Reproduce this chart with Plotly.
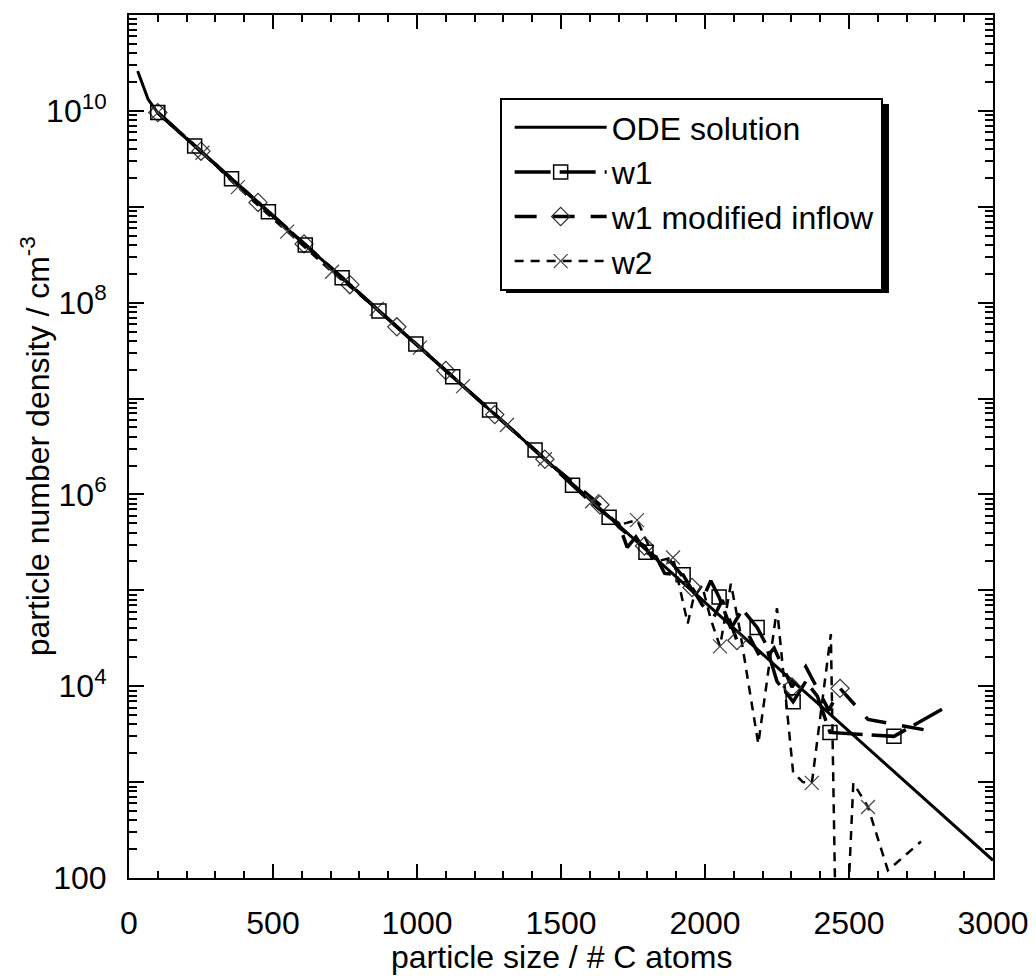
import plotly.graph_objects as go

# ---------------- data ----------------
ode_x = [30, 50, 66, 100, 200, 300, 400, 500, 600, 700, 800, 900, 1000, 1100, 1200,
         1300, 1400, 1500, 1600, 1700, 1800, 1900, 2000, 2100, 2200, 2300, 2400,
         2500, 2600, 2700, 2800, 2900, 3000]
ode_y = [2.6e10, 1.8e10, 1.33e10, 9.5e9, 5.1e9, 2.75e9, 1.48e9, 8.0e8, 4.3e8, 2.33e8,
         1.25e8, 6.8e7, 3.63e7, 1.95e7, 1.05e7, 5.7e6, 3.06e6, 1.65e6, 8.9e5, 4.8e5,
         2.57e5, 1.38e5, 7.5e4, 4.0e4, 2.16e4, 1.16e4, 6.3e3, 3.4e3, 1.82e3, 9.8e2,
         5.3e2, 2.85e2, 1.53e2]

w1_x = [100, 228, 356, 484, 612, 740, 868, 996, 1124, 1252, 1410, 1540, 1600, 1667,
        1700, 1730, 1760, 1795, 1830, 1860, 1924, 1960, 1990, 2020, 2049, 2090, 2130,
        2181, 2210, 2250, 2306, 2350, 2390, 2434, 2656, 2823]
w1_y = [9.6e9, 4.3e9, 1.96e9, 8.9e8, 4.0e8, 1.82e8, 8.2e7, 3.7e7, 1.69e7, 7.6e6, 2.9e6,
        1.25e6, 8.5e5, 5.8e5, 5.0e5, 2.8e5, 3.6e5, 2.5e5, 2.24e5, 1.5e5, 1.45e5, 9.5e4,
        7.9e4, 1.26e5, 8.5e4, 4.0e4, 6.3e4, 4.1e4, 2.8e4, 1.12e4, 6.9e3, 1.12e4, 7.9e3,
        3.3e3, 3.0e3, 5.75e3]
w1_mark_x = [100, 228, 356, 484, 612, 740, 868, 996, 1124, 1252, 1410, 1540, 1667, 1795,
             1924, 2049, 2181, 2306, 2434, 2656]
w1_mark_y = [9.6e9, 4.3e9, 1.96e9, 8.9e8, 4.0e8, 1.82e8, 8.2e7, 3.7e7, 1.69e7, 7.6e6,
             2.9e6, 1.25e6, 5.8e5, 2.5e5, 1.45e5, 8.5e4, 4.1e4, 6.9e3, 3.3e3, 3.0e3]

w1m_x = [100, 250, 448, 608, 767, 930, 1100, 1270, 1444, 1635, 1700, 1745, 1790, 1830,
         1880, 1955, 1990, 2030, 2060, 2111, 2150, 2200, 2240, 2302, 2350, 2430, 2469,
         2566, 2653, 2788]
w1m_y = [9.6e9, 3.8e9, 1.11e9, 4.1e8, 1.54e8, 5.6e7, 1.96e7, 6.8e6, 2.33e6, 7.8e5, 4.6e5,
         3.55e5, 2.9e5, 1.9e5, 2.0e5, 1.07e5, 7.1e4, 5.2e4, 7.9e4, 3.0e4, 3.5e4, 1.78e4,
         2.5e4, 9.8e3, 1.6e4, 5.6e3, 9.5e3, 4.5e3, 4.0e3, 3.4e3]
w1m_mark_x = [100, 250, 448, 608, 767, 930, 1100, 1270, 1444, 1635, 1790, 1955, 2111,
              2302, 2469]
w1m_mark_y = [9.6e9, 3.8e9, 1.11e9, 4.1e8, 1.54e8, 5.6e7, 1.96e7, 6.8e6, 2.33e6, 7.8e5,
              2.9e5, 1.07e5, 3.0e4, 9.8e3, 9.5e3]

w2_x = [100, 255, 378, 549, 705, 860, 1010, 1160, 1312, 1444, 1608, 1700, 1764, 1830,
        1889, 1940, 1960, 1990, 2020, 2052, 2090, 2120, 2185, 2250, 2306, 2340, 2371,
        2437, 2455, 2490, 2515, 2566, 2635, 2750]
w2_y = [9.6e9, 3.66e9, 1.6e9, 5.5e8, 2.1e8, 8.6e7, 3.4e7, 1.35e7, 5.3e6, 2.33e6, 8.5e5,
        4.8e5, 5.4e5, 2.0e5, 2.2e5, 4.5e4, 8.3e4, 1.12e5, 5.0e4, 2.6e4, 1.17e5, 4.0e4,
        2.5e3, 6.5e4, 1.26e3, 1.0e3, 9.8e2, 3.5e4, 20, 20, 9.8e2, 5.5e2, 1.2e2, 2.4e2]
w2_mark_x = [100, 255, 378, 549, 705, 860, 1010, 1160, 1312, 1444, 1608, 1764, 1889,
             2052, 2371, 2566]
w2_mark_y = [9.6e9, 3.66e9, 1.6e9, 5.5e8, 2.1e8, 8.6e7, 3.4e7, 1.35e7, 5.3e6, 2.33e6,
             8.5e5, 5.4e5, 2.2e5, 2.6e4, 9.8e2, 5.5e2]

x_ticks = [0, 500, 1000, 1500, 2000, 2500, 3000]
y_ticks = [1e2, 1e4, 1e6, 1e8, 1e10]
y_ticktext = ["100", "10<sup>4</sup>", "10<sup>6</sup>", "10<sup>8</sup>", "10<sup>10</sup>"]
y_ticks_unlabeled = [1e3, 1e5, 1e7, 1e9, 1e11]

x_title = "particle size / # C atoms"
y_title = "particle number density / cm<sup>-3</sup>"

# ---------------- styles ----------------
FONT = "Liberation Sans, Arial, sans-serif"
ode_line = dict(color="black", width=3)
w1_line = dict(color="black", width=3.5, dash="36px,9px")
w1m_line = dict(color="black", width=3.5, dash="22px,16px")
w2_line = dict(color="black", width=2.5, dash="9px,7px")
sq_marker = dict(symbol="square-open", size=14, color="black", line=dict(width=1.5, color="black"))
dm_marker = dict(symbol="diamond-open", size=14, color="#333333", line=dict(width=1.2, color="#333333"))
x_marker = dict(symbol="x-thin-open", size=14, color="#444444", line=dict(width=1.2, color="#444444"))

fig = go.Figure()

fig.add_trace(go.Scatter(x=w2_x, y=w2_y, mode="lines", line=w2_line, showlegend=False, hoverinfo="skip"))
fig.add_trace(go.Scatter(x=w1m_x, y=w1m_y, mode="lines", line=w1m_line, showlegend=False, hoverinfo="skip"))
fig.add_trace(go.Scatter(x=w1_x, y=w1_y, mode="lines", line=w1_line, showlegend=False, hoverinfo="skip"))
fig.add_trace(go.Scatter(x=ode_x, y=ode_y, mode="lines", line=ode_line, name="ODE solution", legendrank=1))
fig.add_trace(go.Scatter(x=w2_mark_x, y=w2_mark_y, mode="markers", marker=x_marker, showlegend=False))
fig.add_trace(go.Scatter(x=w1m_mark_x, y=w1m_mark_y, mode="markers", marker=dm_marker, showlegend=False))
fig.add_trace(go.Scatter(x=w1_mark_x, y=w1_mark_y, mode="markers", marker=sq_marker, showlegend=False))

# legend entries
fig.add_trace(go.Scatter(x=[None], y=[None], mode="lines+markers", line=w1_line, marker=sq_marker,
                         name="w1", legendrank=2))
fig.add_trace(go.Scatter(x=[None], y=[None], mode="lines+markers", line=w1m_line, marker=dm_marker,
                         name="w1 modified inflow", legendrank=3))
fig.add_trace(go.Scatter(x=[None], y=[None], mode="lines+markers", line=w2_line, marker=x_marker,
                         name="w2", legendrank=4))

minor_y = [m * 10 ** e for e in range(2, 11) for m in range(2, 10)]

axis_common = dict(
    showline=True, linecolor="black", linewidth=2, mirror="ticks",
    ticks="inside", tickcolor="black", tickwidth=1.5,
    showgrid=False, zeroline=False, automargin=False,
    tickfont=dict(family=FONT, size=32, color="black"),
)

# the page body adds an 8px offset, so the figure is 8px smaller than the window
fig.update_layout(
    width=1028, height=972,
    margin=dict(l=121, r=43, t=7, b=102),
    paper_bgcolor="white", plot_bgcolor="white",
    font=dict(family=FONT, size=32, color="black"),
    xaxis=dict(axis_common, range=[0, 3000], tickmode="array", tickvals=x_ticks,
               ticklen=14, ticklabelstandoff=16,
               minor=dict(ticks="inside", ticklen=7, dtick=100, tickcolor="black", tickwidth=1.5)),
    yaxis=dict(axis_common, type="log", range=[2, 11], tickmode="array", tickvals=y_ticks,
               ticktext=y_ticktext, ticklen=15, ticklabelstandoff=14,
               minor=dict(ticks="inside", ticklen=8, tickvals=minor_y, tickcolor="black", tickwidth=1.5)),
    yaxis2=dict(overlaying="y", anchor="x", side="left", type="log", range=[2, 11],
                tickmode="array", tickvals=y_ticks_unlabeled, showticklabels=False,
                ticks="inside", ticklen=15, tickwidth=1.5, tickcolor="black",
                mirror="ticks", showline=True, linecolor="black", linewidth=2,
                showgrid=False, zeroline=False, automargin=False),
    legend=dict(x=0.429, y=0.9038, xanchor="left", yanchor="top", bgcolor="white",
                bordercolor="black", borderwidth=2, itemwidth=92, indentation=8,
                font=dict(family=FONT, size=32, color="black"), tracegroupgap=0),
    shapes=[dict(type="rect", xref="paper", yref="paper", x0=0.4363, x1=0.8796, y0=0.6779, y1=0.8969,
                 fillcolor="black", line=dict(width=0), layer="above")],
    annotations=[
        dict(text=x_title, xref="paper", yref="paper", x=0.5, y=-0.0915, xanchor="center",
             yanchor="middle", showarrow=False, font=dict(family=FONT, size=32, color="black")),
        dict(text=y_title, xref="paper", yref="paper", x=-0.109, y=0.5, xanchor="center",
             yanchor="middle", textangle=-90, showarrow=False,
             font=dict(family=FONT, size=32, color="black")),
    ],
)
# an invisible trace so the secondary (tick-only) y axis is drawn
fig.add_trace(go.Scatter(x=[None], y=[None], yaxis="y2", showlegend=False, hoverinfo="skip"))

fig.write_html("out.html")
